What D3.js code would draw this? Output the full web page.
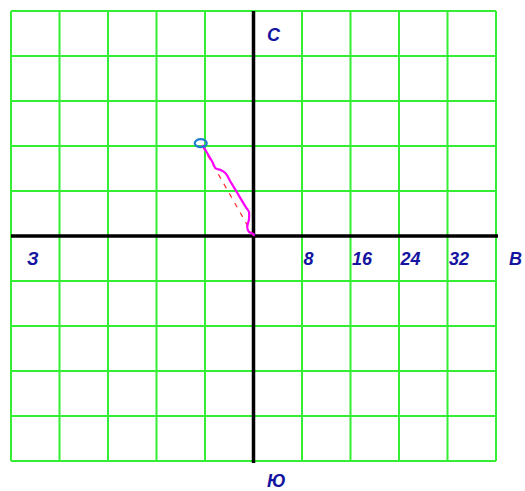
<!DOCTYPE html>
<html>
<head>
<meta charset="utf-8">
<script src="https://cdn.jsdelivr.net/npm/d3@7"></script>
<style>
body { margin: 0; background: #fff; }
.lbl { font-family: "Liberation Sans", Arial, sans-serif; font-weight: bold; font-style: italic; font-size: 18px; fill: #1414a0; }
</style>
</head>
<body>
<div id="chart-area"></div>
<script>
let gridTicks = [-40, -32, -24, -16, -8, 0, 8, 16, 24, 32, 40];
let xTickLabels = [8, 16, 24, 32];
// track (east, north)
let trackX = [0, 0.05, -0.77, -1.04, -0.77, -0.77, -1.32, -2.14, -2.96, -3.79, -4.61, -5.43, -6.26, -6.80, -7.62, -8.44];
let trackY = [0, 0.30, 0.76, 1.65, 2.84, 4.32, 5.21, 6.70, 8.18, 9.65, 11.15, 11.73, 12.04, 13.21, 14.70, 16.18];
let endPoint = [-8.7, 16.5];

let width = 525, height = 491;

let svg = d3.select('#chart-area')
            .append('svg')
            .attr('width', width)
            .attr('height', height);

let x = d3.scaleLinear().domain([-40, 40]).range([11, 496]);
let y = d3.scaleLinear().domain([-40, 40]).range([461, 11]);

// grid
let grid = svg.append('g');
grid.selectAll('line.v')
    .data(gridTicks)
    .enter().append('line')
    .attr('x1', d => x(d)).attr('x2', d => x(d))
    .attr('y1', y(40)).attr('y2', y(-40))
    .attr('stroke', '#33ee33').attr('stroke-width', 2);
grid.selectAll('line.h')
    .data(gridTicks)
    .enter().append('line')
    .attr('y1', d => y(d)).attr('y2', d => y(d))
    .attr('x1', x(-40)).attr('x2', x(40))
    .attr('stroke', '#33ee33').attr('stroke-width', 2);

// main axes
svg.append('line')
   .attr('x1', x(-40)).attr('x2', x(40) + 2)
   .attr('y1', y(0)).attr('y2', y(0))
   .attr('stroke', '#000').attr('stroke-width', 3.5);
svg.append('line')
   .attr('x1', x(0)).attr('x2', x(0))
   .attr('y1', y(40)).attr('y2', y(-40) + 2)
   .attr('stroke', '#000').attr('stroke-width', 3.5);

// tick labels
let xAxis = d3.axisBottom(x).tickValues(xTickLabels).tickSize(0);
let ax = svg.append('g')
   .attr('transform', 'translate(0,' + y(0) + ')')
   .call(xAxis);
ax.select('.domain').remove();
ax.selectAll('text')
  .attr('class', 'lbl')
  .attr('text-anchor', 'start')
  .attr('x', 1)
  .attr('dy', null)
  .attr('y', 29)
  .attr('fill', null);
ax.attr('font-size', null).attr('font-family', null);

// compass letters
svg.append('text').attr('class', 'lbl').attr('x', 267).attr('y', 41).text('С');
svg.append('text').attr('class', 'lbl').attr('x', 267).attr('y', 487).text('Ю');
svg.append('text').attr('class', 'lbl').attr('x', 27).attr('y', 265).text('З');
svg.append('text').attr('class', 'lbl').attr('x', 509).attr('y', 265).text('В');

// straight line to end point
svg.append('line')
   .attr('x1', x(0)).attr('y1', y(0))
   .attr('x2', x(endPoint[0])).attr('y2', y(endPoint[1]))
   .attr('stroke', '#ff2a2a').attr('stroke-width', 1.2)
   .attr('stroke-dasharray', '5,6');

// track
let track = trackX.map((d, i) => [d, trackY[i]]);
let line = d3.line()
   .x(d => x(d[0]))
   .y(d => y(d[1]))
   .curve(d3.curveCatmullRom);
svg.append('path')
   .datum(track)
   .attr('d', line)
   .attr('fill', 'none')
   .attr('stroke', '#ff00ff')
   .attr('stroke-width', 2.2);

// end marker
svg.append('ellipse')
   .attr('cx', x(endPoint[0]))
   .attr('cy', y(endPoint[1]))
   .attr('rx', 6).attr('ry', 4)
   .attr('fill', 'none')
   .attr('stroke', '#1f7fd0')
   .attr('stroke-width', 2.2);
</script>
</body>
</html>
